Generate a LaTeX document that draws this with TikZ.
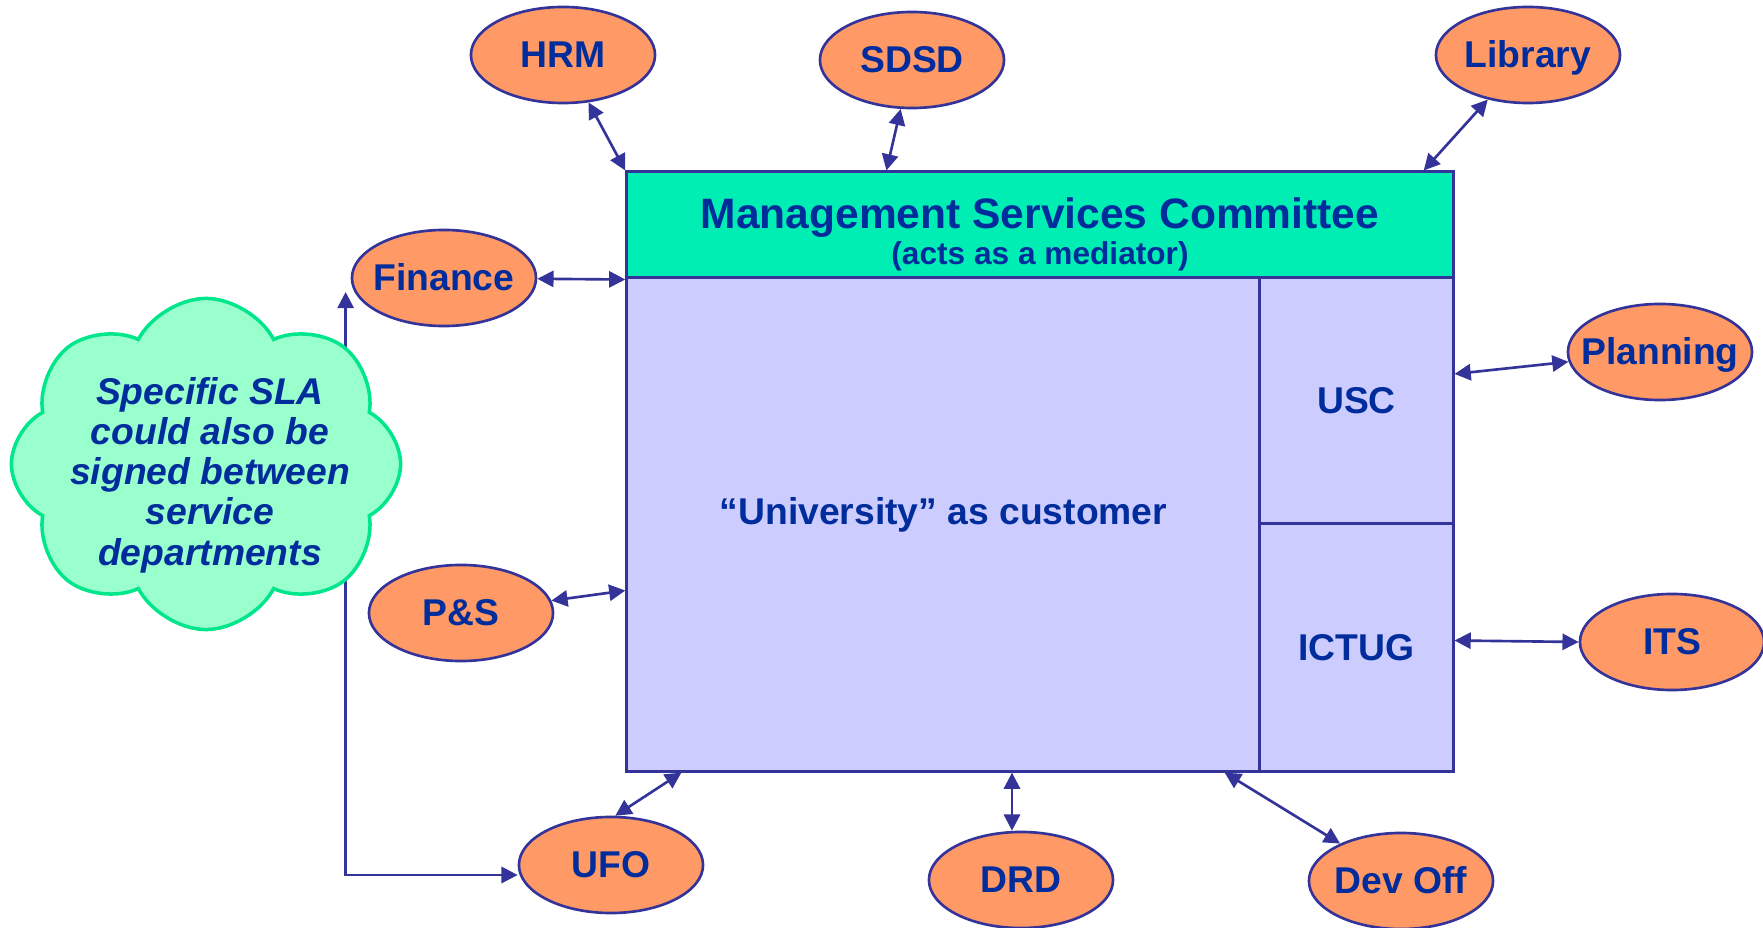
\documentclass[tikz,border=0pt]{standalone}
\usepackage{fontspec}
\setmainfont{Liberation Sans}
\usepackage{xcolor}
\usetikzlibrary{shapes.geometric,shapes.symbols,arrows.meta}

\definecolor{deptfill}{RGB}{255,153,102}
\definecolor{linkblue}{RGB}{51,51,153}
\definecolor{textblue}{RGB}{0,45,155}
\definecolor{headgreen}{RGB}{0,238,180}
\definecolor{bodylilac}{RGB}{204,204,255}
\definecolor{cloudfill}{RGB}{153,255,204}
\definecolor{cloudedge}{RGB}{0,230,140}

\begin{document}
\begin{tikzpicture}[x=0.01cm, y=-0.01cm,
        dept/.style={ellipse, draw=linkblue, line width=0.75pt, fill=deptfill,
            minimum width=1.84cm, minimum height=0.96cm, inner xsep=-5pt, inner ysep=0pt,
            text height=0.72em, text depth=0pt,
            text=textblue, font=\fontsize{10.6}{12}\selectfont\bfseries},
        part/.style={rectangle, draw=linkblue, line width=0.85pt, fill=bodylilac,
            text=textblue, font=\fontsize{10.6}{12}\selectfont\bfseries},
        link/.style={draw=linkblue, line width=0.75pt,
            {Triangle[length=4.6pt,width=4.6pt]}-{Triangle[length=4.6pt,width=4.6pt]}}]
        \useasboundingbox (0,0) rectangle (1763,928);

        \node[dept] (hrm) at (563,55) {HRM};
        \node[dept] (sdsd) at (912,60) {SDSD};
        \node[dept] (lib) at (1528,55) {Library};
        \node[dept] (fin) at (444,278) {Finance};
        \node[dept] (plan) at (1660,352) {Planning};
        \node[dept] (ps) at (461,613) {P\&S};
        \node[dept] (its) at (1672,642) {ITS};
        \node[dept] (ufo) at (611,865) {UFO};
        \node[dept] (drd) at (1021,880) {DRD};
        \node[dept] (devoff) at (1401,881) {Dev Off};

        \node[part, fill=headgreen, minimum width=8.26cm, minimum height=1.06cm] (msc) at (1040,225) {};
        \node[part, minimum width=6.33cm, minimum height=4.93cm] (univ) at (943.5,524.5) {};
        \node[part, minimum width=1.93cm, minimum height=2.46cm] (usc) at (1356.5,401) {USC};
        \node[part, minimum width=1.93cm, minimum height=2.47cm] (ictug) at (1356.5,647.5) {ICTUG};

        \node[anchor=base, text=textblue, font=\fontsize{12.1}{14}\selectfont\bfseries] (msctitle) at (1040,229) {Management Services Committee};
        \node[anchor=base, text=textblue, font=\fontsize{9}{11}\selectfont\bfseries] (mscnote) at (1040,265) {(acts as a mediator)};
        \node[anchor=base, text=textblue, font=\fontsize{10.6}{12}\selectfont\bfseries] (univtext) at (univ.center) {“University” as customer};

        \draw[link] (hrm) -- (msc.north west);
        \draw[link] (sdsd) -- ([xshift=2.61cm]msc.north west);
        \draw[link] (lib) -- ([xshift=-0.31cm]msc.north east);
        \draw[link] (fin) -- (msc.south west);
        \draw[link] ([yshift=0.27cm]usc.east) -- (plan);
        \draw[link] (ps) -- ([yshift=-0.66cm]univ.west);
        \draw[link] ([yshift=0.07cm]ictug.east) -- (its.west);
        \draw[link] (ufo.85) -- ([xshift=0.56cm]univ.south west);
        \draw[link] ([xshift=-0.09cm]drd.north) -- ([xshift=-0.09cm]drd.north |- univ.south);
        \draw[link] ([xshift=-0.37cm]univ.south east) -- (devoff);
        \draw[link] ([yshift=-0.1cm]ufo.west) -| ([xshift=-0.05cm,yshift=-0.14cm]fin.west);

        \node[cloud, cloud puffs=8, cloud puff arc=125, shape border rotate=10, draw=cloudedge, fill=cloudfill, line width=1pt,
            minimum width=3.89cm, minimum height=3.31cm] (slacloud) at (206,464) {};
        \node[align=center, text=textblue, font=\fontsize{10.6}{11.44}\selectfont\bfseries\itshape] (slatext) at (210,475)
            {Specific SLA\\could also be\\signed between\\service\\departments};
\end{tikzpicture}
\end{document}
